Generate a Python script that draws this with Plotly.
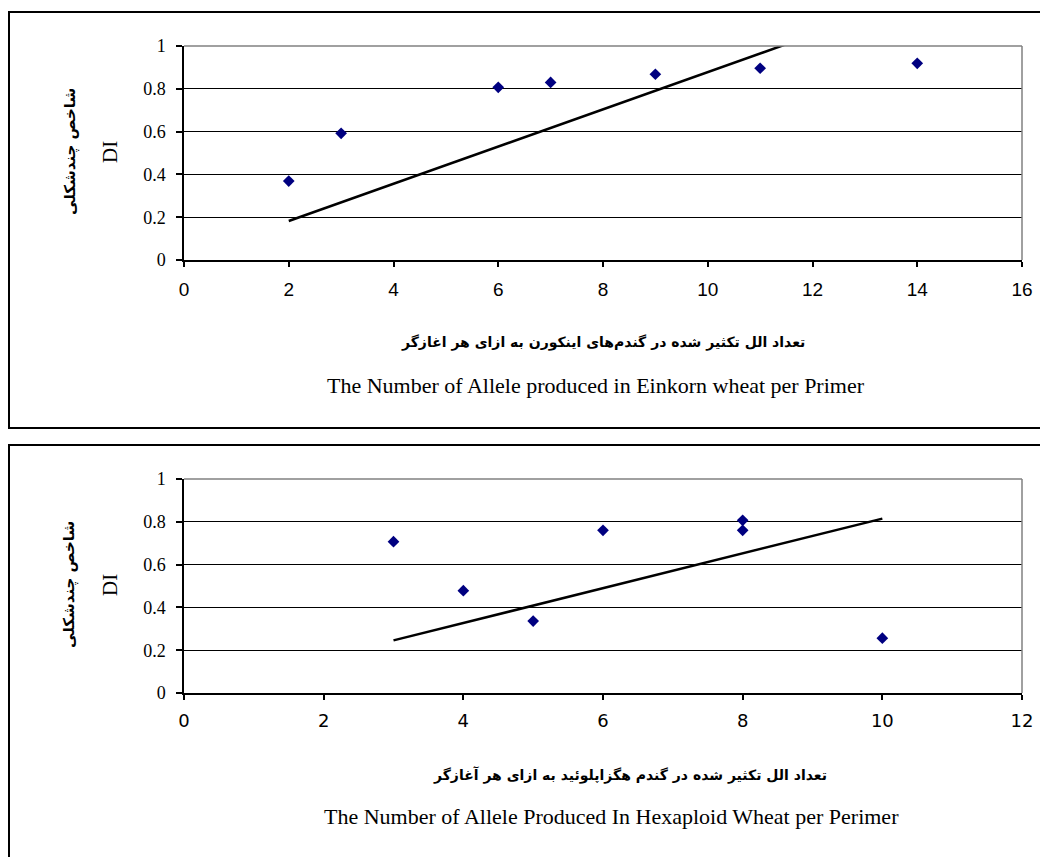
import numpy as np
import plotly.graph_objects as go

# ---- data ----
einkorn_alleles = [2, 3, 6, 7, 9, 11, 14]
einkorn_di = [0.369, 0.592, 0.807, 0.830, 0.868, 0.896, 0.919]
einkorn_trend_x = [2, 14]
einkorn_trend_coef = [0.087, 0.008]   # slope, intercept

hexa_alleles = [3, 4, 5, 6, 8, 8, 10]
hexa_di = [0.707, 0.478, 0.336, 0.760, 0.807, 0.760, 0.256]
hexa_trend_x = [3, 10]
hexa_trend_coef = [0.0813, 0.002]

y_title_fa = "شاخص چندشکلی"
y_title_en = "DI"
x_title_top_fa = "تعداد الل تکثیر شده در گندم\u200cهای اینکورن به ازای هر اغازگر"
x_title_top_en = "The Number of Allele produced in Einkorn wheat per Primer"
x_title_bot_fa = "تعداد الل تکثیر شده در گندم هگزاپلوئید به ازای هر آغازگر"
x_title_bot_en = "The Number of Allele Produced In Hexaploid Wheat per Perimer"

W, H = 1040, 857
def px(x):
    return x / W
def py(y):
    return (H - y) / H

SERIF = "Liberation Serif, Times New Roman, serif"
SANS = "Liberation Sans, Arial, sans-serif"
SANS2 = "DejaVu Sans, Verdana, sans-serif"
FA = "DejaVu Sans, sans-serif"

fig = go.Figure()

def trend(xs, coef):
    xs = np.array(xs, dtype=float)
    return xs, coef[0] * xs + coef[1]

tx, ty = trend(einkorn_trend_x, einkorn_trend_coef)
fig.add_trace(go.Scatter(x=tx, y=ty, mode="lines", line=dict(color="black", width=2.5),
                         xaxis="x", yaxis="y", showlegend=False, hoverinfo="skip"))
fig.add_trace(go.Scatter(x=einkorn_alleles, y=einkorn_di, mode="markers",
                         marker=dict(symbol="diamond", color="#000080", size=9),
                         xaxis="x", yaxis="y", showlegend=False))

bx, by = trend(hexa_trend_x, hexa_trend_coef)
fig.add_trace(go.Scatter(x=bx, y=by, mode="lines", line=dict(color="black", width=2.5),
                         xaxis="x2", yaxis="y2", showlegend=False, hoverinfo="skip"))
fig.add_trace(go.Scatter(x=hexa_alleles, y=hexa_di, mode="markers",
                         marker=dict(symbol="diamond", color="#000080", size=9),
                         xaxis="x2", yaxis="y2", showlegend=False))

plot_l, plot_r = 184, 1022
top_t, top_b = 46, 260
bot_t, bot_b = 479, 693

xcommon = dict(showline=True, linecolor="black", linewidth=1.5, ticks="outside", ticklen=5,
               tickcolor="black", tickwidth=1.5, showgrid=False, zeroline=False,
               ticklabelstandoff=6, automargin=False)
ycommon = dict(showline=True, linecolor="black", linewidth=1.5, ticks="outside", ticklen=6,
               tickcolor="black", tickwidth=1.5, showgrid=True, gridcolor="black", gridwidth=1,
               zeroline=False, range=[0, 1], dtick=0.2, ticklabelstandoff=7, automargin=False,
               tickfont=dict(family=SERIF, size=18, color="black"))

fig.update_layout(
    width=W, height=H, margin=dict(l=0, r=0, t=0, b=0, pad=0, autoexpand=False),
    paper_bgcolor="white", plot_bgcolor="white",
    xaxis=dict(xcommon, domain=[px(plot_l), px(plot_r)], range=[0, 16], dtick=2, anchor="y",
               tickfont=dict(family=SANS, size=19, color="black")),
    yaxis=dict(ycommon, domain=[py(top_b), py(top_t)], anchor="x"),
    xaxis2=dict(xcommon, domain=[px(plot_l), px(plot_r)], range=[0, 12], dtick=2, anchor="y2",
                tickfont=dict(family=SANS2, size=18, color="black")),
    yaxis2=dict(ycommon, domain=[py(bot_b), py(bot_t)], anchor="x2"),
)

shapes = []
# chart boxes
shapes.append(dict(type="rect", xref="paper", yref="paper", x0=px(9), x1=px(1060),
                   y0=py(428), y1=py(12), line=dict(color="black", width=2)))
shapes.append(dict(type="rect", xref="paper", yref="paper", x0=px(9), x1=px(1060),
                   y0=py(880), y1=py(445), line=dict(color="black", width=2)))
# plot area borders (gray top/right)
for (t, b) in [(top_t, top_b), (bot_t, bot_b)]:
    shapes.append(dict(type="line", xref="paper", yref="paper", x0=px(plot_l), x1=px(plot_r),
                       y0=py(t), y1=py(t), line=dict(color="#808080", width=1.5)))
    shapes.append(dict(type="line", xref="paper", yref="paper", x0=px(plot_r), x1=px(plot_r),
                       y0=py(b), y1=py(t), line=dict(color="#808080", width=1.5)))
fig.update_layout(shapes=shapes)

ann = []
for (cy, fa_x, fa_y, en_x, en_y, fa_t, en_t) in [
    (152, 603, 342, 596, 385, x_title_top_fa, x_title_top_en),
    (585, 630, 775, 611, 816, x_title_bot_fa, x_title_bot_en),
]:
    ann.append(dict(text="<b>" + y_title_fa + "</b>", x=px(70), y=py(cy), xref="paper", yref="paper",
                    textangle=-90, showarrow=False, font=dict(family=FA, size=15, color="black"),
                    xanchor="center", yanchor="middle"))
    ann.append(dict(text=y_title_en, x=px(110), y=py(cy), xref="paper", yref="paper",
                    textangle=-90, showarrow=False, font=dict(family=SERIF, size=21, color="black"),
                    xanchor="center", yanchor="middle"))
    ann.append(dict(text="<b>" + fa_t + "</b>", x=px(fa_x), y=py(fa_y), xref="paper", yref="paper",
                    showarrow=False, font=dict(family=FA, size=14, color="black"),
                    xanchor="center", yanchor="middle"))
    ann.append(dict(text=en_t, x=px(en_x), y=py(en_y), xref="paper", yref="paper",
                    showarrow=False, font=dict(family=SERIF, size=22, color="black"),
                    xanchor="center", yanchor="middle"))
fig.update_layout(annotations=ann)

fig.write_html(
    "out.html",
    config={"displayModeBar": False},
    post_script="document.body.style.margin='0';document.body.style.overflow='hidden';",
)
